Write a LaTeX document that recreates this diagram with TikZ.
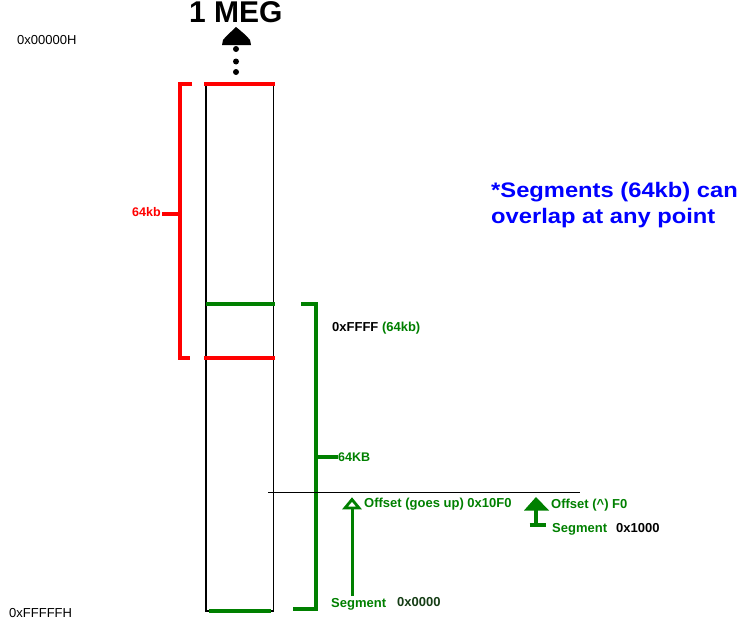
\documentclass[tikz,border=0pt]{standalone}
\usepackage{fontspec}
\setmainfont{Liberation Sans}
\newfontfamily\widefont[FakeStretch=1.13]{Liberation Sans}
\definecolor{dgreen}{RGB}{0,128,0}
\definecolor{dkgreen}{RGB}{20,60,20}
\begin{document}
\begin{tikzpicture}[x=1pt,y=-1pt,
  lbl/.style={anchor=base west, inner sep=0pt, font=\fontsize{13}{15}\selectfont\bfseries},
  addr/.style={anchor=base west, inner sep=0pt, font=\fontsize{13}{15}\selectfont},
  blue text/.style={anchor=base west, inner sep=0pt, text=blue, font=\widefont\fontsize{21}{26}\selectfont\bfseries},
  colline/.style={black, line width=1.3pt},
  redline/.style={red, line width=3.2pt},
  grnline/.style={dgreen, line width=3.2pt},
  thin line/.style={black, line width=0.9pt}]
\useasboundingbox (0,0) rectangle (748,621);

% coordinates
\coordinate (ctl) at (206,84);
\coordinate (ctr) at (273.5,84);
\coordinate (cbl) at (206,611);
\coordinate (cbr) at (273.5,611);

% memory column
\draw[colline] (ctl) -- (cbl) -- (cbr) -- (ctr);

% top label and arrow
\node[anchor=base west, inner sep=0pt, font=\fontsize{30}{32}\selectfont\bfseries] (meg) at (189,23) {1 MEG};
\fill[black] (236,27) .. controls (241,31) and (247,36) .. (250,40) -- (251,45) -- (222,45) -- (223,40) .. controls (226,36) and (232,31) .. (236,27) -- cycle;
\fill[black] (236,49) circle (3);
\fill[black] (236,61.5) circle (3);
\fill[black] (236,72) circle (3);

% addresses
\node[addr] (top) at (17,44) {0x00000H};
\node[addr] (bot) at (9,617) {0xFFFFFH};

% red segment
\draw[redline] (204,84) -- (274.5,84);
\draw[redline] (204,358) -- (275,358);
\draw[redline, line join=miter] (192,84) -- (180,84) -- (180,358) -- (190,358);
\draw[redline] (162,214) -- (180,214);
\node[lbl, text=red, font=\fontsize{12.5}{15}\selectfont\bfseries] (rkb) at (132,216) {64kb};

% green segment
\draw[grnline] (206,304) -- (274.5,304);
\draw[grnline] (209,611) -- (271,611);
\draw[grnline, line width=3.5pt, line join=miter] (301,304) -- (316,304) -- (316,609) -- (293,609);
\draw[grnline] (316,457) -- (338,457);
\node[lbl, text=dgreen, font=\fontsize{12.5}{15}\selectfont\bfseries] (gkb) at (338,461) {64KB};
\node[lbl] (ffff) at (332,331) {0xFFFF \textcolor{dgreen}{(64kb)}};

% offset line
\coordinate (ol) at (268,492);
\coordinate (or) at (580,492);
\draw[thin line] (ol) -- (or);

% arrow 1 (open head)
\draw[dgreen, line width=3pt] (352,596) -- (352,508);
\draw[dgreen, line width=2.8pt, line join=miter] (352,499.5) -- (359,508) -- (345,508) -- cycle;
\node[lbl, text=dgreen] (off1) at (364,507) {Offset (goes up) 0x10F0};
\node[lbl, text=dgreen] (seg1) at (331,607) {Segment};
\node[lbl, text=dkgreen] (seg1v) at (397,606) {0x0000};

% arrow 2 (filled head, T base)
\fill[dgreen] (536,497) -- (549,510.5) -- (524,510.5) -- cycle;
\draw[dgreen, line width=4pt] (536,509) -- (536,525);
\draw[dgreen, line width=3.4pt] (529.5,525) -- (546,525);
\node[lbl, text=dgreen] (off2) at (551,508) {Offset (\textasciicircum) F0};
\node[lbl, text=dgreen] (seg2) at (552,532) {Segment};
\node[lbl] (seg2v) at (616,532) {0x1000};

% note
\node[blue text] (note1) at (491,197) {*Segments (64kb) can};
\node[blue text] (note2) at (491,223) {overlap at any point};
\end{tikzpicture}
\end{document}
